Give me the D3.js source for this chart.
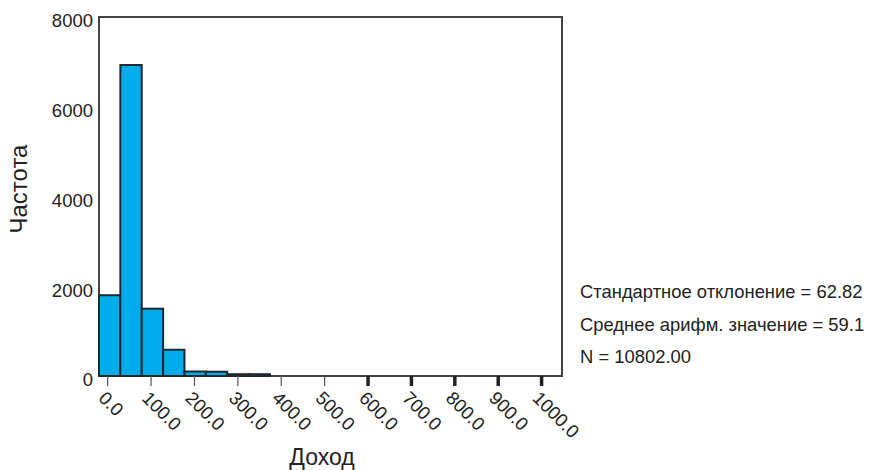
<!DOCTYPE html>
<html>
<head>
<meta charset="utf-8">
<script src="https://cdn.jsdelivr.net/npm/d3@7"></script>
<style>
  body { margin: 0; background: #fff; }
  text { font-family: "Liberation Sans", Arial, sans-serif; fill: #222; }
</style>
</head>
<body>
<svg id="chart" width="883" height="470"></svg>
<script>
// histogram bins (income), counts
var binStart = -20, binWidth = 49.25;
var counts = [1800, 6930, 1500, 585, 100, 95, 40, 40];
var xTicks = [0, 100, 200, 300, 400, 500, 600, 700, 800, 900, 1000];
var yTicks = [0, 2000, 4000, 6000, 8000];
var statLines = [
  "Стандартное отклонение = 62.82",
  "Среднее арифм. значение = 59.1",
  "N = 10802.00"
];

var svg = d3.select("#chart");
var mLeft = 99, mRight = 562, mTop = 17, mBottom = 376;

var x = d3.scaleLinear().domain([-20, 1047]).range([mLeft, mRight]);
var y = d3.scaleLinear().domain([0, 8000]).range([mBottom, mTop]);

var bins = counts.map(function (c, i) {
  return { x0: binStart + i * binWidth, x1: binStart + (i + 1) * binWidth, n: c };
});

// frame
svg.append("rect")
  .attr("x", mLeft).attr("y", mTop)
  .attr("width", mRight - mLeft).attr("height", mBottom - mTop)
  .attr("fill", "#fff").attr("stroke", "#444").attr("stroke-width", 2);

// bars
svg.append("g").selectAll("rect").data(bins).enter().append("rect")
  .attr("x", function (d) { return x(d.x0); })
  .attr("y", function (d) { return y(d.n); })
  .attr("width", function (d) { return x(d.x1) - x(d.x0); })
  .attr("height", function (d) { return y(0) - y(d.n); })
  .attr("fill", "#00acec")
  .attr("stroke", "#1e2a30")
  .attr("stroke-width", 2);

// x axis ticks + rotated labels
var gx = svg.append("g").attr("transform", "translate(0," + mBottom + ")");
gx.selectAll("line").data(xTicks).enter().append("line")
  .attr("x1", function (d) { return x(d); })
  .attr("x2", function (d) { return x(d); })
  .attr("y1", 0).attr("y2", 10)
  .attr("stroke", function (d) { return d >= 600 ? "#222" : "#555"; })
  .attr("stroke-width", function (d) { return d >= 600 ? 3.5 : 1.2; });
gx.selectAll("text").data(xTicks).enter().append("text")
  .attr("transform", function (d) { return "translate(" + (x(d) - 1) + ",14) rotate(45)"; })
  .attr("dy", "0.7em")
  .attr("font-size", 18.5)
  .text(function (d) { return d.toFixed(1); });

// y labels
svg.append("g").selectAll("text").data(yTicks).enter().append("text")
  .attr("x", mLeft - 6)
  .attr("y", function (d) { return y(d) + 4; })
  .attr("dy", "0.35em")
  .attr("text-anchor", "end")
  .attr("font-size", 18.5)
  .text(function (d) { return d; });

// axis titles
svg.append("text")
  .attr("transform", "translate(27,189) rotate(-90)")
  .attr("text-anchor", "middle")
  .attr("font-size", 24)
  .text("Частота");
svg.append("text")
  .attr("x", 322).attr("y", 465)
  .attr("text-anchor", "middle")
  .attr("font-size", 23)
  .text("Доход");

// stats block
svg.append("g").selectAll("text").data(statLines).enter().append("text")
  .attr("x", 580)
  .attr("y", function (d, i) { return 298 + i * 32.5; })
  .attr("font-size", 18.4)
  .text(function (d) { return d; });
</script>
</body>
</html>
